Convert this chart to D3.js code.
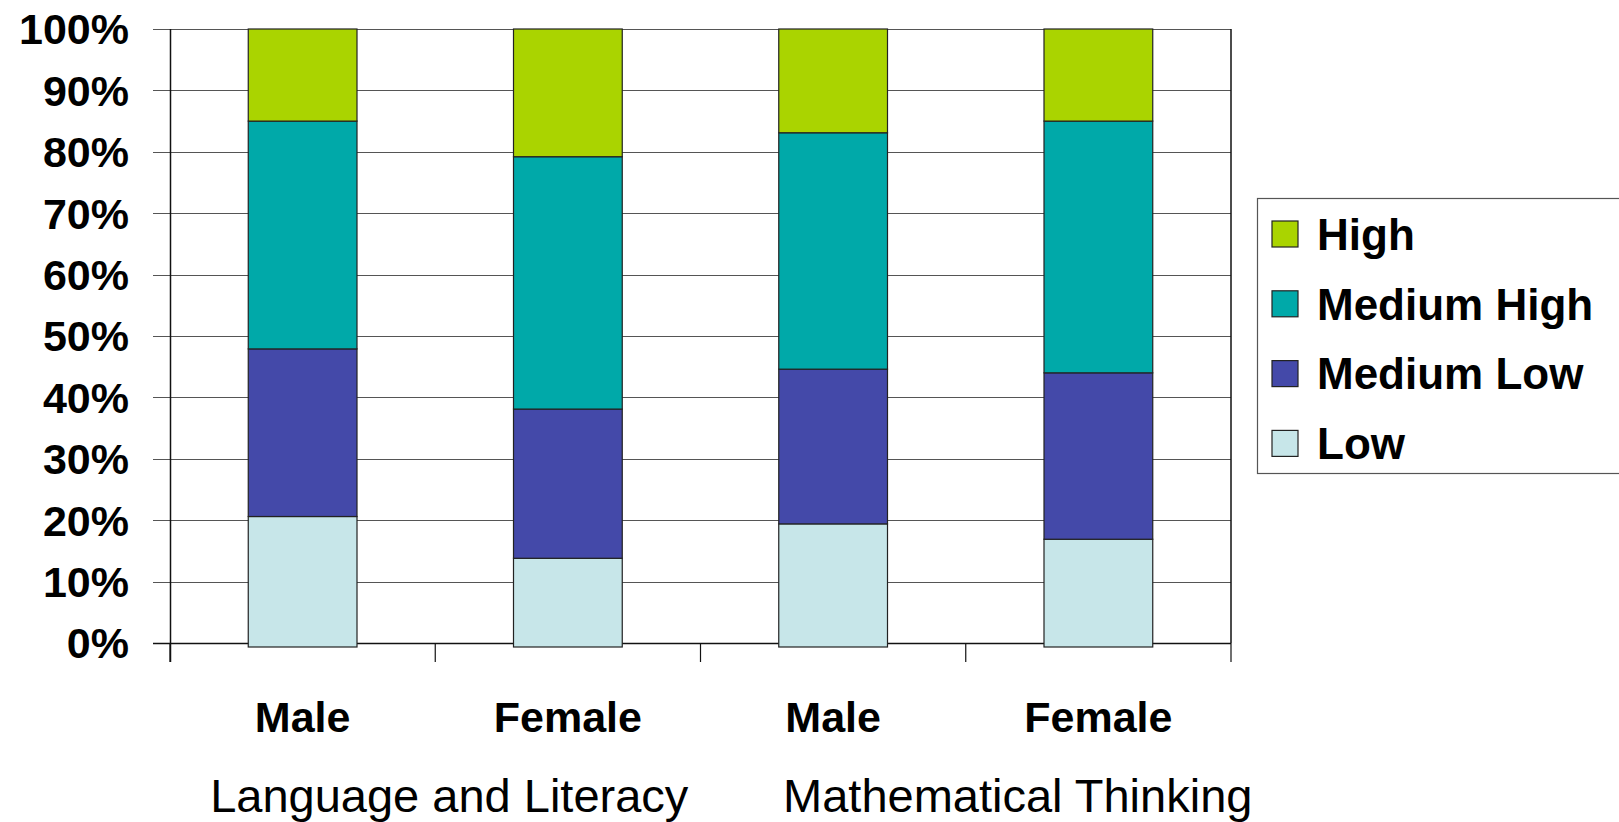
<!DOCTYPE html>
<html>
<head>
<meta charset="utf-8">
<script src="https://cdn.jsdelivr.net/npm/d3@7"></script>
<style>
  html, body { margin: 0; padding: 0; background: #fff; }
  svg { display: block; font-family: "Liberation Sans", Arial, sans-serif; }
</style>
</head>
<body>
<div id="chart"></div>
<script>
// Data (percent of children in each level)
const categories = ['Male', 'Female', 'Male', 'Female'];
const groups = ['Language and Literacy', 'Mathematical Thinking'];
const levels = ['Low', 'Medium Low', 'Medium High', 'High'];
const low        = [20.6, 13.8, 19.4, 16.9];
const mediumLow  = [27.3, 24.3, 25.2, 27.1];
const mediumHigh = [37.1, 41.1, 38.5, 41.0];
const high       = [15.0, 20.8, 16.9, 15.0];
const yTicks = [0, 10, 20, 30, 40, 50, 60, 70, 80, 90, 100];
const colors = ['#c7e6e9', '#4449a9', '#00a9a9', '#aad400'];

const W = 1619, H = 822;
const margin = { top: 29, left: 170, right: 388, bottom: 179 };
const plotW = W - margin.left - margin.right;
const plotH = H - margin.top - margin.bottom;

const svg = d3.select('#chart').append('svg')
    .attr('width', W)
    .attr('height', H);

const g = svg.append('g')
    .attr('transform', `translate(${margin.left},${margin.top})`);

const x = d3.scaleBand()
    .domain(d3.range(categories.length))
    .range([0, plotW])
    .padding(0);

const y = d3.scaleLinear()
    .domain([0, 100])
    .range([plotH, 0]);

const barW = x.bandwidth() * 0.41;

// gridlines + left tick marks
g.append('g')
    .selectAll('line')
    .data(yTicks)
    .join('line')
    .attr('x1', -17)
    .attr('x2', plotW)
    .attr('y1', d => Math.round(y(d)) + 0.5)
    .attr('y2', d => Math.round(y(d)) + 0.5)
    .attr('stroke', d => d === 0 ? '#111' : '#555')
    .attr('stroke-width', d => d === 0 ? 1.5 : 1.2);

// y tick labels
g.append('g')
    .selectAll('text')
    .data(yTicks)
    .join('text')
    .attr('x', -41)
    .attr('y', d => y(d))
    .attr('dy', '0.36em')
    .attr('text-anchor', 'end')
    .attr('font-size', 43)
    .attr('font-weight', 'bold')
    .text(d => d + '%');

// stacked bars
const rows = categories.map((c, i) => ({
    i, Low: low[i], 'Medium Low': mediumLow[i], 'Medium High': mediumHigh[i], High: high[i]
}));
const stacked = d3.stack().keys(levels)(rows);

g.append('g')
    .selectAll('g')
    .data(stacked)
    .join('g')
    .attr('fill', (d, k) => colors[k])
    .selectAll('rect')
    .data(d => d)
    .join('rect')
    .attr('x', d => x(d.data.i) + (x.bandwidth() - barW) / 2)
    .attr('y', d => y(Math.min(100, d[1])))
    .attr('width', barW)
    .attr('height', d => y(d[0]) - y(Math.min(100, d[1])) + (d[0] === 0 ? 4 : 0))
    .attr('stroke', '#222')
    .attr('stroke-width', 1.2);

// plot frame: left axis, right border
g.append('line')
    .attr('x1', 0.5).attr('x2', 0.5)
    .attr('y1', 0).attr('y2', plotH + 19)
    .attr('stroke', '#111').attr('stroke-width', 1.5);
g.append('line')
    .attr('x1', plotW).attr('x2', plotW)
    .attr('y1', 0).attr('y2', plotH)
    .attr('stroke', '#111').attr('stroke-width', 1.5);

// x tick marks at category boundaries
g.append('g')
    .selectAll('line')
    .data(d3.range(categories.length + 1))
    .join('line')
    .attr('x1', d => d * x.step())
    .attr('x2', d => d * x.step())
    .attr('y1', plotH)
    .attr('y2', plotH + 19)
    .attr('stroke', '#111')
    .attr('stroke-width', 1.2);

// category labels
g.append('g')
    .selectAll('text')
    .data(categories)
    .join('text')
    .attr('x', (d, i) => x(i) + x.bandwidth() / 2)
    .attr('y', plotH + 89)
    .attr('text-anchor', 'middle')
    .attr('font-size', 43)
    .attr('font-weight', 'bold')
    .text(d => d);

// group labels
const groupX = [x(0) + x.step() + 14, x(2) + x.step() + 52];
g.append('g')
    .selectAll('text')
    .data(groups)
    .join('text')
    .attr('x', (d, i) => groupX[i])
    .attr('y', plotH + 169)
    .attr('text-anchor', 'middle')
    .attr('font-size', 47)
    .text(d => d);

// legend
const legend = svg.append('g')
    .attr('transform', 'translate(1257,198)');

legend.append('rect')
    .attr('x', 0.5).attr('y', 0.5)
    .attr('width', 420).attr('height', 275)
    .attr('fill', '#fff')
    .attr('stroke', '#555')
    .attr('stroke-width', 1.2);

const legendItems = levels.slice().reverse();
const item = legend.selectAll('g.item')
    .data(legendItems)
    .join('g')
    .attr('class', 'item')
    .attr('transform', (d, i) => `translate(0,${36 + i * 69.8})`);

item.append('rect')
    .attr('x', 15).attr('y', -13)
    .attr('width', 26).attr('height', 26)
    .attr('fill', d => colors[levels.indexOf(d)])
    .attr('stroke', '#222')
    .attr('stroke-width', 1.2);

item.append('text')
    .attr('x', 60)
    .attr('y', 0)
    .attr('dy', '0.36em')
    .attr('font-size', 44)
    .attr('font-weight', 'bold')
    .text(d => d);
</script>
</body>
</html>
